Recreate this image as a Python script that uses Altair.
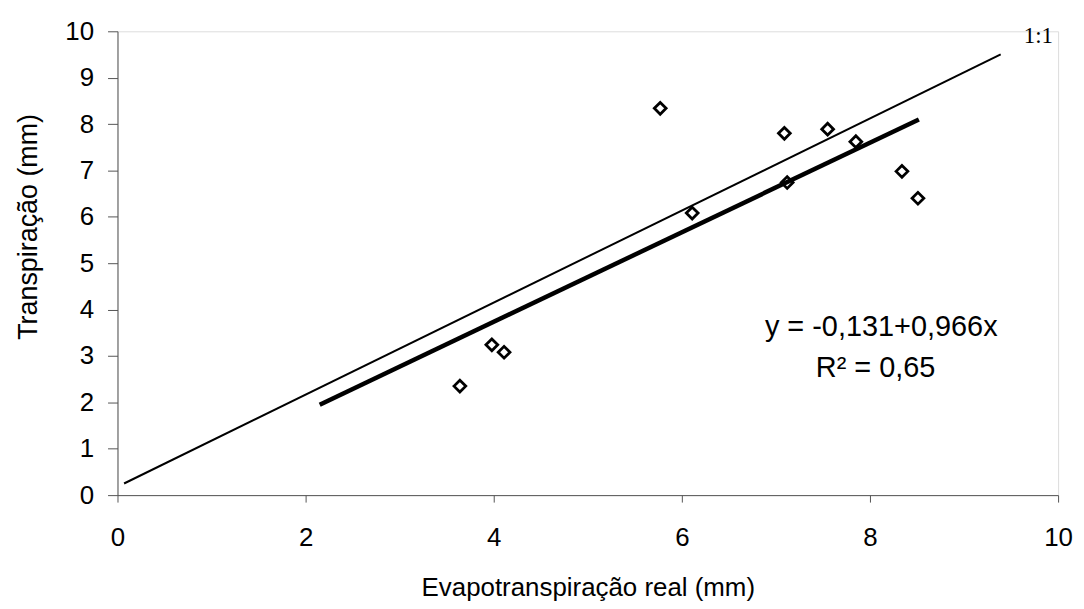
import altair as alt
import pandas as pd

# observed points
et_real = [3.64, 3.98, 4.11, 5.77, 6.11, 7.09, 7.12, 7.55, 7.85, 8.34, 8.51]
transp = [2.35, 3.24, 3.08, 8.34, 6.08, 7.80, 6.74, 7.89, 7.62, 6.98, 6.40]

# line endpoints
fit_x = [2.15, 8.52]
fit_y = [1.95, 8.10]
one_x = [0.07, 9.39]
one_y = [0.25, 9.50]

ann_text = ["y = -0,131+0,966x", "R² = 0,65"]
ann_x = [8.12, 8.06]
ann_y = [3.63, 2.75]

lbl_text = ["1:1"]
lbl_x = [9.79]
lbl_y = [9.89]

x_ticks = [0, 2, 4, 6, 8, 10]
y_ticks = [0, 1, 2, 3, 4, 5, 6, 7, 8, 9, 10]

pts = pd.DataFrame({"x": et_real, "y": transp})
fit = pd.DataFrame({"x": fit_x, "y": fit_y})
one = pd.DataFrame({"x": one_x, "y": one_y})
ann = pd.DataFrame({"t": ann_text, "x": ann_x, "y": ann_y})
lbl = pd.DataFrame({"t": lbl_text, "x": lbl_x, "y": lbl_y})

FONT = "Liberation Sans"
AX = "#555555"

xs = alt.Scale(domain=[0, 10], nice=False, zero=False)
ys = alt.Scale(domain=[0, 10], nice=False, zero=False)

xenc = alt.X("x:Q", scale=xs, title="Evapotranspiração real (mm)",
             axis=alt.Axis(values=x_ticks, format="d", grid=False, domainColor=AX,
                           tickColor=AX, tickSize=7, labelFontSize=26, labelFont=FONT,
                           labelColor="#000", labelPadding=23, titleFontSize=26,
                           titleFont=FONT, titleFontWeight="normal", titleColor="#000",
                           titleBaseline="alphabetic", titleY=101, labelFlush=False))
yenc = alt.Y("y:Q", scale=ys, title="Transpiração (mm)",
             axis=alt.Axis(values=y_ticks, format="d", grid=False, domainColor=AX,
                           tickColor=AX, tickSize=10, labelFontSize=26, labelFont=FONT,
                           labelColor="#000", labelPadding=14, titleFontSize=27,
                           titleFont=FONT, titleFontWeight="normal", titleColor="#000",
                           titleBaseline="alphabetic", titleX=-81, titleY=196,
                           titleAngle=-90, labelFlush=False))

one_line = alt.Chart(one).mark_line(color="black", strokeWidth=2).encode(x=xenc, y=yenc)
fit_line = alt.Chart(fit).mark_line(color="black", strokeWidth=4.5).encode(x="x:Q", y="y:Q")
points = alt.Chart(pts).mark_point(shape="diamond", size=140, filled=False, color="black",
                                   strokeWidth=2.8, opacity=1).encode(x="x:Q", y="y:Q")
ann_txt = alt.Chart(ann).mark_text(font=FONT, fontSize=29, color="black", align="center",
                                   baseline="middle").encode(x="x:Q", y="y:Q", text="t:N")
lbl_txt = alt.Chart(lbl).mark_text(font="Liberation Serif", fontSize=23, color="black",
                                   align="center", baseline="middle").encode(
    x="x:Q", y="y:Q", text="t:N")

chart = alt.layer(one_line, fit_line, points, ann_txt, lbl_txt).properties(
    width=945, height=466,
    autosize=alt.AutoSizeParams(type="none"),
    padding={"left": 110, "top": 22, "right": 18, "bottom": 108},
).configure_view(stroke=None).configure(background="white")

chart.save("out.html", embed_options={"renderer": "svg", "actions": False})
